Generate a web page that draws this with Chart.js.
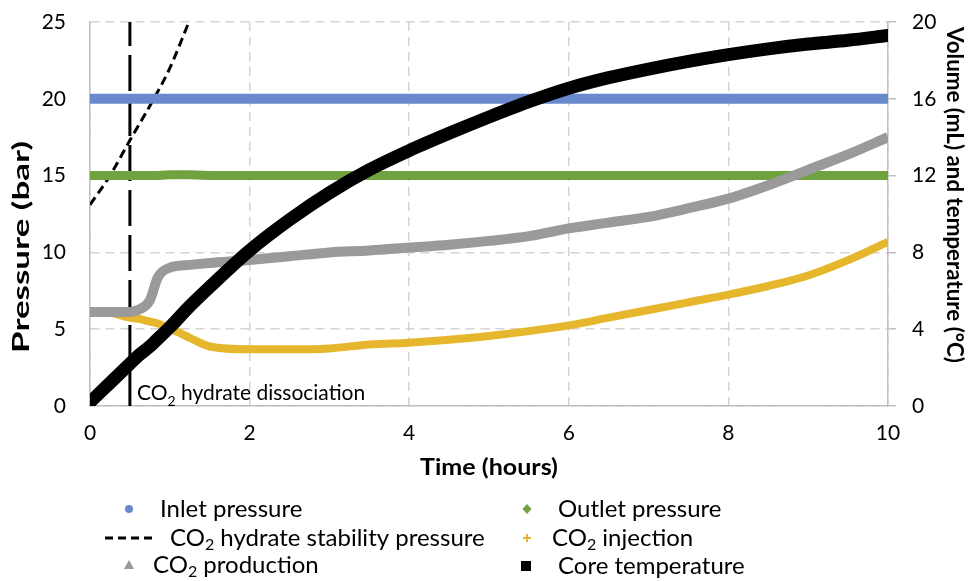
<!DOCTYPE html>
<html>
<head>
<meta charset="utf-8">
<script src="https://cdn.jsdelivr.net/npm/chart.js@4.4.1/dist/chart.umd.min.js"></script>
<style>
  html, body { margin: 0; padding: 0; background: #fff; }
</style>
</head>
<body>
<canvas id="chart" width="968" height="581"></canvas>
<script>
// time (hours) shared by the measured series
var timeHours = [0, 0.25, 0.5, 0.6, 0.75, 0.85, 1, 1.25, 1.5, 2, 2.5, 3, 3.5, 4, 4.5, 5, 5.5, 6, 6.5, 7, 7.5, 8, 8.5, 9, 9.5, 10];

// pressures (bar), left axis
var inletPressure  = [20, 20, 20, 20, 20, 20, 20, 20, 20, 20, 20, 20, 20, 20, 20, 20, 20, 20, 20, 20, 20, 20, 20, 20, 20, 20];
var outletPressure = [15, 15, 15, 15, 15, 15, 15.05, 15.05, 15, 15, 15, 15, 15, 15, 15, 15, 15, 15, 15, 15, 15, 15, 15, 15, 15, 15];

// volumes (mL) and temperature (°C), right axis
var co2Injection    = [4.9, 4.85, 4.6, 4.55, 4.4, 4.3, 4.05, 3.55, 3.1, 2.95, 2.95, 3.0, 3.2, 3.3, 3.45, 3.65, 3.9, 4.2, 4.6, 5.0, 5.4, 5.8, 6.25, 6.8, 7.6, 8.55];
var co2Production   = [4.9, 4.9, 4.9, 5.0, 5.5, 6.7, 7.2, 7.35, 7.45, 7.6, 7.8, 8.0, 8.1, 8.25, 8.4, 8.6, 8.85, 9.25, 9.55, 9.85, 10.3, 10.8, 11.5, 12.3, 13.1, 14.0];
var coreTemperature = [0.2, 1.2, 2.2, 2.6, 3.1, 3.5, 4.1, 5.2, 6.2, 8.1, 9.7, 11.1, 12.3, 13.3, 14.2, 15.05, 15.85, 16.55, 17.1, 17.55, 17.95, 18.3, 18.6, 18.85, 19.05, 19.3];

// CO2 hydrate stability pressure (bar)
var stabilityTime     = [0, 0.25, 0.5, 0.8, 1.0, 1.24];
var stabilityPressure = [13.1, 15.0, 17.3, 20.0, 22.0, 25.0];

// hydrate dissociation marker
var dissociationTime  = [0.5, 0.5];
var dissociationLevel = [0, 25];

var timeTicks     = [0, 2, 4, 6, 8, 10];
var pressureTicks = [0, 5, 10, 15, 20, 25];
var rightTicks    = [0, 4, 8, 12, 16, 20];

var FONT = 'Lato, "Open Sans", sans-serif';

function pts(xs, ys) {
    var out = [];
    for (var i = 0; i < xs.length; i++) {
        out.push({x: xs[i], y: ys[i]});
    }
    return out;
}

// text with CO2-style subscripts: parts = [[text, isSub], ...]
function drawRich(ctx, parts, x, y, size, bold) {
    var w = bold ? 'bold ' : '';
    for (var i = 0; i < parts.length; i++) {
        var sub = parts[i][1];
        ctx.font = w + (sub ? Math.round(size * 0.65) : size) + 'px ' + FONT;
        ctx.fillText(parts[i][0], x, y + (sub ? size * 0.28 : 0));
        x += ctx.measureText(parts[i][0]).width;
    }
}

// centred title stretched along its baseline to a given length
function drawTitle(ctx, text, cx, cy, angle, size, len) {
    ctx.save();
    ctx.translate(cx, cy);
    ctx.rotate(angle);
    ctx.font = 'bold ' + size + 'px ' + FONT;
    var k = len / ctx.measureText(text).width;
    ctx.scale(k, 1);
    ctx.textAlign = 'center';
    ctx.textBaseline = 'middle';
    ctx.fillText(text, 0, 0);
    ctx.restore();
}

var legendItems = [
    {mx: 129, my: 509, tx: 160, kind: 'circle',   color: '#6a89cc', text: [['Inlet pressure', false]]},
    {mx: 527, my: 509, tx: 558, kind: 'diamond',  color: '#70a33f', text: [['Outlet pressure', false]]},
    {mx: 128, my: 538, tx: 170, kind: 'dash',     color: '#000',    text: [['CO', false], ['2', true], [' hydrate stability pressure', false]]},
    {mx: 527, my: 538, tx: 552, kind: 'plus',     color: '#e6b72c', text: [['CO', false], ['2', true], [' injection', false]]},
    {mx: 129, my: 565, tx: 153, kind: 'triangle', color: '#9a9a9a', text: [['CO', false], ['2', true], [' production', false]]},
    {mx: 526, my: 566, tx: 558, kind: 'square',   color: '#000',    text: [['Core temperature', false]]}
];

function drawMarker(ctx, it) {
    var x = it.mx, y = it.my;
    ctx.save();
    ctx.fillStyle = it.color;
    ctx.strokeStyle = it.color;
    ctx.beginPath();
    if (it.kind == 'circle') {
        ctx.arc(x, y, 4, 0, Math.PI * 2);
        ctx.fill();
    } else if (it.kind == 'diamond') {
        ctx.moveTo(x, y - 5); ctx.lineTo(x + 4.5, y); ctx.lineTo(x, y + 5); ctx.lineTo(x - 4.5, y);
        ctx.closePath(); ctx.fill();
    } else if (it.kind == 'triangle') {
        ctx.moveTo(x, y - 5); ctx.lineTo(x + 5, y + 4); ctx.lineTo(x - 5, y + 4);
        ctx.closePath(); ctx.fill();
    } else if (it.kind == 'square') {
        ctx.fillRect(x - 5, y - 5, 10, 10);
    } else if (it.kind == 'plus') {
        ctx.lineWidth = 2;
        ctx.moveTo(x - 4, y); ctx.lineTo(x + 4, y);
        ctx.moveTo(x, y - 4); ctx.lineTo(x, y + 4);
        ctx.stroke();
    } else if (it.kind == 'dash') {
        ctx.lineWidth = 3;
        ctx.setLineDash([8, 5]);
        ctx.moveTo(105, y); ctx.lineTo(152, y);
        ctx.stroke();
    }
    ctx.restore();
}

var extras = {
    id: 'extras',
    afterDatasetsDraw: function(chart) {
        var ctx = chart.ctx;
        var xs = chart.scales.x;
        ctx.save();
        ctx.fillStyle = '#000';
        ctx.textBaseline = 'alphabetic';
        drawRich(ctx, [['CO', false], ['2', true], [' hydrate dissociation', false]],
            xs.getPixelForValue(dissociationTime[0]) + 7, 400, 21, false);
        ctx.restore();
    },
    afterDraw: function(chart) {
        var ctx = chart.ctx;
        ctx.save();
        ctx.fillStyle = '#000';
        drawTitle(ctx, 'Time (hours)', 489, 468, 0, 22, 138);
        drawTitle(ctx, 'Pressure (bar)', 22, 247, -Math.PI / 2, 23, 212);
        drawTitle(ctx, 'Volume (mL) and temperature (\u00B0C)', 954, 195, Math.PI / 2, 22, 336);

        ctx.textAlign = 'left';
        ctx.textBaseline = 'middle';
        for (var i = 0; i < legendItems.length; i++) {
            drawMarker(ctx, legendItems[i]);
            ctx.fillStyle = '#000';
            drawRich(ctx, legendItems[i].text, legendItems[i].tx, legendItems[i].my, 24, false);
        }
        ctx.restore();
    }
};

// grid dash pattern (v4 puts it under border.dash)
var gridDash = [9, 6];

// keep tick-label overflow from pushing the plot area around
function noPad(s) {
    s.paddingTop = 0;
    s.paddingBottom = 0;
    s.paddingLeft = 0;
    s.paddingRight = 0;
}

new Chart(document.getElementById('chart').getContext('2d'), {
    type: 'line',
    data: {
        datasets: [
            {
                label: 'Inlet pressure', yAxisID: 'y', data: pts(timeHours, inletPressure),
                borderColor: '#6a89cc', borderWidth: 10, borderCapStyle: 'round', pointRadius: 0, order: 4
            },
            {
                label: 'Outlet pressure', yAxisID: 'y', data: pts(timeHours, outletPressure),
                borderColor: '#70a33f', borderWidth: 9, borderCapStyle: 'round', pointRadius: 0, order: 3
            },
            {
                label: 'CO2 hydrate stability pressure', yAxisID: 'y', data: pts(stabilityTime, stabilityPressure),
                borderColor: '#000', borderWidth: 3, borderDash: [9, 5], pointRadius: 0,
                cubicInterpolationMode: 'monotone', order: 5
            },
            {
                label: 'CO2 injection', yAxisID: 'y1', data: pts(timeHours, co2Injection),
                borderColor: '#e6b72c', borderWidth: 8, pointRadius: 0,
                cubicInterpolationMode: 'monotone', order: 2
            },
            {
                label: 'CO2 production', yAxisID: 'y1', data: pts(timeHours, co2Production),
                borderColor: '#9a9a9a', borderWidth: 10, pointRadius: 0,
                cubicInterpolationMode: 'monotone', order: 1
            },
            {
                label: 'Core temperature', yAxisID: 'y1', data: pts(timeHours, coreTemperature),
                borderColor: '#000', borderWidth: 13, borderCapStyle: 'square', pointRadius: 0,
                cubicInterpolationMode: 'monotone', order: 0
            },
            {
                label: 'dissociation', yAxisID: 'y', data: pts(dissociationTime, dissociationLevel),
                borderColor: '#000', borderWidth: 3, borderDash: [36, 9], pointRadius: 0, order: 6
            }
        ]
    },
    options: {
        responsive: false,
        animation: false,
        devicePixelRatio: 1,
        layout: { padding: { top: 22, left: 0, right: 0, bottom: 0 } },
        plugins: { legend: { display: false }, tooltip: { enabled: false } },
        scales: {
            x: {
                type: 'linear', min: 0, max: 10,
                afterBuildTicks: function(s) { s.ticks = timeTicks.map(function(v) { return {value: v}; }); },
                afterFit: function(s) { s.height = 175; noPad(s); },
                grid: { color: '#d4d4d4', lineWidth: 1.5, drawTicks: false },
                border: { display: true, color: '#bfbfbf', width: 1.5, dash: gridDash },
                ticks: { padding: 15, color: '#000', font: { family: FONT, size: 21 }, maxRotation: 0 }
            },
            y: {
                position: 'left', min: 0, max: 25,
                afterBuildTicks: function(s) { s.ticks = pressureTicks.map(function(v) { return {value: v}; }); },
                afterFit: function(s) { s.width = 90; noPad(s); },
                grid: { color: '#d4d4d4', lineWidth: 1.5, drawTicks: false },
                border: { display: true, color: '#bfbfbf', width: 1.5, dash: gridDash },
                ticks: { padding: 24, color: '#000', font: { family: FONT, size: 21 } }
            },
            y1: {
                position: 'right', min: 0, max: 20,
                afterBuildTicks: function(s) { s.ticks = rightTicks.map(function(v) { return {value: v}; }); },
                afterFit: function(s) { s.width = 80; noPad(s); },
                grid: { drawOnChartArea: false, drawTicks: true, tickLength: 8, color: '#bfbfbf', lineWidth: 1.5 },
                border: { display: true, color: '#bfbfbf', width: 1.5 },
                ticks: { padding: 16, color: '#000', font: { family: FONT, size: 21 } }
            }
        }
    },
    plugins: [extras]
});
</script>
</body>
</html>
